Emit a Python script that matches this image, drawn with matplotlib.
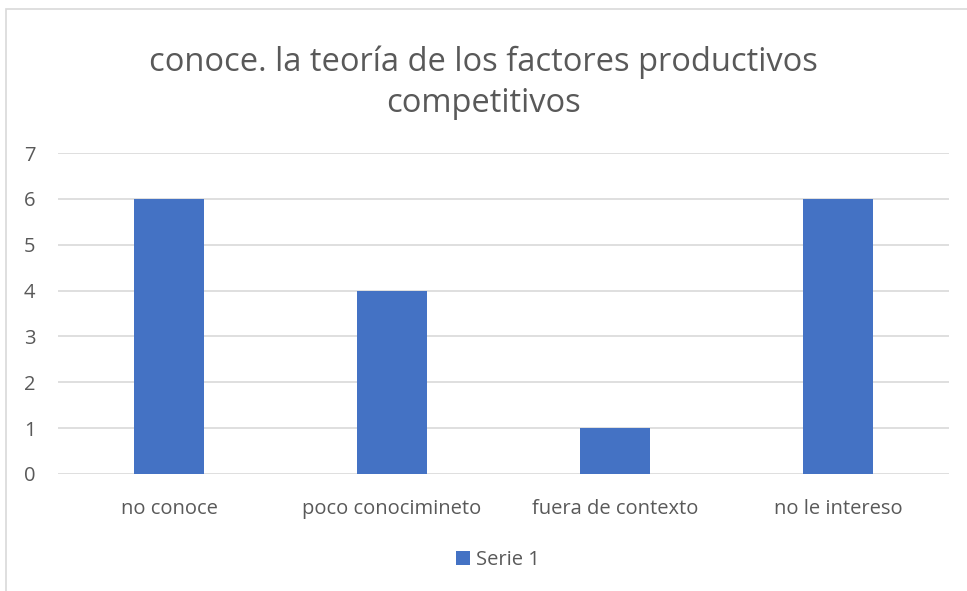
import matplotlib.pyplot as plt
from matplotlib.patches import Rectangle

categories = ['no conoce', 'poco conocimineto', 'fuera de contexto', 'no le intereso']
values = [6, 4, 1, 6]
series_name = 'Serie 1'
title = 'conoce. la teoría de los factores productivos\ncompetitivos'

plt.rcParams['font.family'] = ['Open Sans', 'DejaVu Sans']
text_color = '#595959'

fig = plt.figure(figsize=(9.67, 5.91), dpi=100)
# chart frame (partly cut off on the right and bottom in the reference)
fig.patches.append(Rectangle((6 / 967, -0.1), 1.0, 1.1 - 9 / 591, transform=fig.transFigure,
                             fill=False, edgecolor='#D9D9D9', linewidth=1.2))

ax = fig.add_axes([0.0595, 0.198, 0.9224, 0.543])
x = range(len(categories))
ax.bar(x, values, width=0.314, color='#4472C4', label=series_name, zorder=3)

ax.set_xlim(-0.5, len(categories) - 0.5)
ax.set_ylim(0, 7)
ax.set_yticks(range(0, 8))
ax.set_xticks(list(x))
ax.set_xticklabels(categories)
ax.grid(axis='y', color='#D9D9D9', linewidth=1.2, zorder=0)
for s in ax.spines.values():
    s.set_visible(False)
ax.tick_params(axis='both', length=0, labelsize=14.5, labelcolor=text_color)
ax.tick_params(axis='y', pad=16)
ax.tick_params(axis='x', pad=18)

fig.text(0.5, 0.86, title, ha='center', va='center', fontsize=23.5, color=text_color,
         linespacing=1.32)

fig.legend(loc='center', bbox_to_anchor=(0.515, 0.053), frameon=False, fontsize=14.5,
           labelcolor=text_color, handlelength=0.7, handleheight=0.7, handletextpad=0.3)

fig.savefig('out.png', dpi=100)
